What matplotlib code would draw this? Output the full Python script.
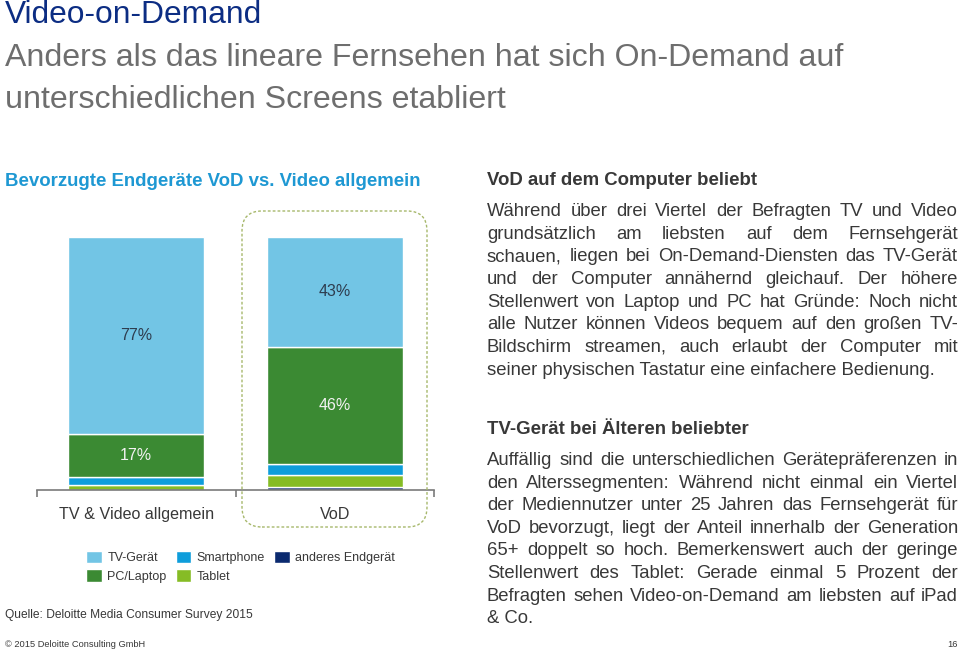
import matplotlib
matplotlib.use('Agg')
import matplotlib.pyplot as plt
from matplotlib.patches import FancyBboxPatch
from matplotlib.transforms import IdentityTransform

plt.rcParams['font.family'] = ['Liberation Sans', 'DejaVu Sans']

# ---------------- data ----------------
categories = ['TV & Video allgemein', 'VoD']
series_names = ['TV-Gerät', 'PC/Laptop', 'Smartphone', 'Tablet', 'anderes Endgerät']
tv_geraet = [77, 43]
pc_laptop = [17, 46]
smartphone = [3, 4]
tablet = [2, 5]
anderes = [0, 1]

title = 'Video-on-Demand'
subtitle = ['Anders als das lineare Fernsehen hat sich On-Demand auf',
            'unterschiedlichen Screens etabliert']
chart_title = 'Bevorzugte Endgeräte VoD vs. Video allgemein'
head1 = 'VoD auf dem Computer beliebt'
para1 = ['Während über drei Viertel der Befragten TV und Video',
         'grundsätzlich am liebsten auf dem Fernsehgerät',
         'schauen, liegen bei On-Demand-Diensten das TV-Gerät',
         'und der Computer annähernd gleichauf. Der höhere',
         'Stellenwert von Laptop und PC hat Gründe: Noch nicht',
         'alle Nutzer können Videos bequem auf den großen TV-',
         'Bildschirm streamen, auch erlaubt der Computer mit',
         'seiner physischen Tastatur eine einfachere Bedienung.']
head2 = 'TV-Gerät bei Älteren beliebter'
para2 = ['Auffällig sind die unterschiedlichen Gerätepräferenzen in',
         'den Alterssegmenten: Während nicht einmal ein Viertel',
         'der Mediennutzer unter 25 Jahren das Fernsehgerät für',
         'VoD bevorzugt, liegt der Anteil innerhalb der Generation',
         '65+ doppelt so hoch. Bemerkenswert auch der geringe',
         'Stellenwert des Tablet: Gerade einmal 5 Prozent der',
         'Befragten sehen Video-on-Demand am liebsten auf iPad',
         '& Co.']
source = 'Quelle: Deloitte Media Consumer Survey 2015'
copyright_txt = '© 2015 Deloitte Consulting GmbH'
page = '16'

# ---------------- figure ----------------
W, H = 960, 651
fig = plt.figure(figsize=(9.6, 6.51), dpi=100)
fig.patch.set_facecolor('white')
renderer = fig.canvas.get_renderer()

def put(s, x, y, size, color, weight='normal', ha='left', va='baseline'):
    return fig.text(x / W, 1 - y / H, s, fontsize=size, color=color,
                    fontweight=weight, ha=ha, va=va)

def width(t):
    return t.get_window_extent(renderer).width

def fit(s, x0, x1, y, color, weight='normal'):
    t = put(s, x0, y, 10, color, weight)
    t.set_fontsize(10 * (x1 - x0) / width(t))
    return t

def justify(lines, x0, x1, y0, dy, size, color):
    for i, line in enumerate(lines):
        y = y0 + i * dy
        if i == len(lines) - 1:
            put(line, x0, y, size, color)
            continue
        words = line.split()
        ts = [put(w, x0, y, size, color) for w in words]
        ws = [width(t) for t in ts]
        gap = (x1 - x0 - sum(ws)) / (len(words) - 1)
        x = x0
        for t, w in zip(ts, ws):
            t.set_x(x / W)
            x += w + gap

# titles
fit(title, 5, 263, 23, '#0c2d83')
st = fit(subtitle[0], 5, 845, 66, '#6e6e6e')
put(subtitle[1], 5, 108, st.get_fontsize(), '#6e6e6e')
fit(chart_title, 5, 422, 186, '#1e98d3', 'bold')

# right column
body_color = '#383838'
hb = fit(head1, 487, 758, 185, '#383838', 'bold')
put(head2, 487, 434, hb.get_fontsize(), '#383838', 'bold')
tmp = put(para1[-1], 0, 0, 10, body_color)
body_size = 10 * (937 - 487) / width(tmp)
tmp.remove()
justify(para1, 487, 958, 216, 22.65, body_size, body_color)
justify(para2, 487, 958, 465, 22.6, body_size, body_color)

# footer
fit(source, 5, 253, 618, '#383838')
ct = fit(copyright_txt, 5, 146, 647, '#383838')
put(page, 958, 647, ct.get_fontsize(), '#383838', ha='right')

# ---------------- bar chart ----------------
ax = fig.add_axes([37 / W, (H - 490) / H, 397 / W, 256 / H])
colors = ['#72c5e5', '#3b8a33', '#0e9ddb', '#86bc25', '#0b2a6f']
series = [tv_geraet, pc_laptop, smartphone, tablet, anderes]
xpos = list(range(len(categories)))
bottom = [0] * len(categories)
containers = {}
# stacking order bottom -> top: anderes, tablet, smartphone, pc, tv
order = [4, 3, 2, 1, 0]
for idx in order:
    vals = series[idx]
    c = ax.bar(xpos, vals, 0.685, bottom=bottom, color=colors[idx],
               edgecolor='white', linewidth=1.0, label=series_names[idx])
    containers[idx] = c
    if idx in (0, 1):
        for xi, v, b in zip(xpos, vals, bottom):
            ax.text(xi, b + v / 2, f'{v}%', ha='center', va='center',
                    fontsize=11.5,
                    color='#2e3d4f' if idx == 0 else '#f2f2f2')
    bottom = [b + v for b, v in zip(bottom, vals)]

ax.set_xlim(-0.5, 1.5)
ax.set_ylim(0, 100)
for s in ['top', 'right', 'left']:
    ax.spines[s].set_visible(False)
ax.spines['bottom'].set_color('#7a7a7a')
ax.spines['bottom'].set_linewidth(1.2)
ax.set_yticks([])
ax.set_xticks(xpos)
ax.set_xticklabels(categories, fontsize=11.6, color='#383838')
ax.tick_params(axis='x', which='major', length=0, pad=12)
ax.set_xticks([-0.5, 0.5, 1.5], minor=True)
ax.tick_params(axis='x', which='minor', length=5, width=1.2,
               color='#7a7a7a', direction='out')
ax.patch.set_alpha(0)

# legend
handles = [containers[i] for i in range(5)]
fig.legend(handles, series_names, loc='upper left',
           bbox_to_anchor=(86 / W, 1 - 551 / H), ncol=3, frameon=False,
           fontsize=9, handlelength=1.25, handleheight=1.15,
           handletextpad=0.45, columnspacing=0.72, labelspacing=0.4,
           labelcolor='#383838', borderaxespad=0, borderpad=0)

# dashed rounded box around VoD
box = FancyBboxPatch((242, H - 527), 185, 316,
                     boxstyle='round,pad=0,rounding_size=20',
                     transform=IdentityTransform(), fill=False,
                     edgecolor='#a7b86c', linewidth=1.0,
                     linestyle=(0, (2.0, 1.5)))
fig.add_artist(box)

fig.savefig('out.png', dpi=100, facecolor='white')
